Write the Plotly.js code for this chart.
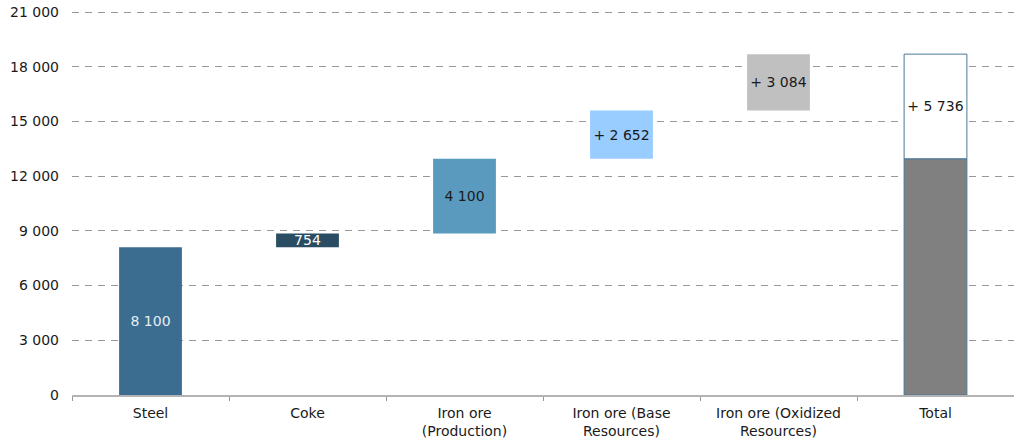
<!DOCTYPE html>
<html>
<head>
<meta charset="utf-8">
<script src="https://cdn.plot.ly/plotly-3.0.1.min.js"></script>
<style>
  html, body { margin: 0; padding: 0; background: #fff; }
  #chart { width: 1014px; height: 441px; }
</style>
</head>
<body>
<div id="chart"></div>
<script>
// Reserves build-up by source (thousand tonnes)
const categories = ['Steel', 'Coke', 'Iron ore<br>(Production)', 'Iron ore (Base<br>Resources)', 'Iron ore (Oxidized<br>Resources)', 'Total'];
const stepValues = [8100, 754, 4100, 2652, 3084];
const stepColors = ['#3a6d90', '#2b4d63', '#5a9abe', '#99ccff', '#c0c0c0'];
const stepTextColors = ['#e6edf3', '#ffffff', '#1a1a1a', '#1a1a1a', '#1a1a1a'];
const stepIsAddition = [false, false, false, true, true];
const realizedCount = 3; // first three steps form the solid part of the total
const yTicks = [0, 3000, 6000, 9000, 12000, 15000, 18000, 21000];

const fmt = v => String(v).replace(/\B(?=(\d{3})+(?!\d))/g, ' ');

// Floating bases for the waterfall steps
const bases = [];
let running = 0;
stepValues.forEach(v => { bases.push(running); running += v; });

const realizedTotal = stepValues.slice(0, realizedCount).reduce((a, b) => a + b, 0);
const potentialTotal = stepValues.slice(realizedCount).reduce((a, b) => a + b, 0);

const font = { family: 'DejaVu Sans, Verdana, sans-serif', size: 14, color: '#1a1a1a' };

const steps = {
  type: 'bar',
  x: categories.slice(0, stepValues.length),
  y: stepValues,
  base: bases,
  width: 0.4,
  marker: { color: stepColors, line: { width: 0 } },
  text: stepValues.map((v, i) => (stepIsAddition[i] ? '+ ' : '') + fmt(v)),
  textposition: 'inside',
  insidetextanchor: 'middle',
  constraintext: 'none',
  textfont: { family: font.family, size: 14, color: stepTextColors },
  textangle: 0,
  hoverinfo: 'skip',
  showlegend: false
};

const totalSolid = {
  type: 'bar',
  x: [categories[5]],
  y: [realizedTotal],
  base: [0],
  width: 0.4,
  marker: { color: '#808080', line: { color: '#4a7898', width: 1 } },
  hoverinfo: 'skip',
  showlegend: false
};

const totalPotential = {
  type: 'bar',
  x: [categories[5]],
  y: [potentialTotal],
  base: [realizedTotal],
  width: 0.4,
  marker: { color: '#ffffff', line: { color: '#4a7898', width: 1 } },
  text: ['+ ' + fmt(potentialTotal)],
  textposition: 'inside',
  insidetextanchor: 'middle',
  constraintext: 'none',
  textfont: { family: font.family, size: 14, color: '#1a1a1a' },
  textangle: 0,
  hoverinfo: 'skip',
  showlegend: false
};

const layout = {
  width: 1014,
  height: 441,
  margin: { l: 72, r: 0, t: 8, b: 46 },
  paper_bgcolor: '#ffffff',
  plot_bgcolor: '#ffffff',
  font: font,
  barmode: 'overlay',
  showlegend: false,
  xaxis: {
    type: 'category',
    showgrid: false,
    showline: true,
    linecolor: '#b3b3b3',
    linewidth: 2,
    ticks: 'outside',
    tickson: 'boundaries',
    ticklen: 4,
    tickcolor: '#999999',
    ticklabelstandoff: 4,
    tickfont: { family: font.family, size: 14, color: '#1a1a1a' },
    fixedrange: true
  },
  yaxis: {
    // headroom above the last tick so its gridline is still drawn
    range: [0, 21000 * 387 / 383],
    tickvals: yTicks,
    ticktext: yTicks.map(fmt),
    showgrid: true,
    gridcolor: '#999999',
    gridwidth: 1,
    griddash: '7px,6px',
    zeroline: false,
    showline: false,
    ticks: '',
    ticklabelstandoff: 12,
    tickfont: { family: font.family, size: 14, color: '#1a1a1a' },
    fixedrange: true
  }
};

Plotly.newPlot('chart', [steps, totalSolid, totalPotential], layout, { displayModeBar: false, staticPlot: true });
</script>
</body>
</html>
